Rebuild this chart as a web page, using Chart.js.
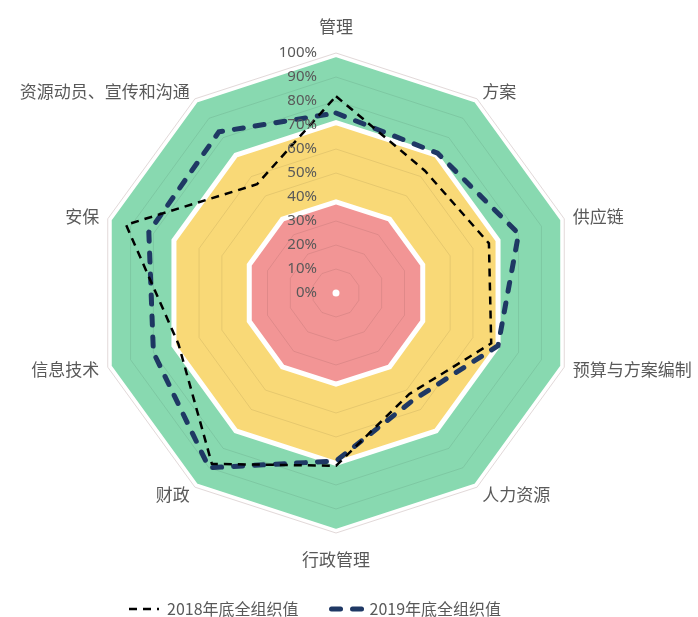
<!DOCTYPE html>
<html lang="zh">
<head>
<meta charset="utf-8">
<title>全组织值雷达图</title>
<script src="https://cdn.jsdelivr.net/npm/chart.js@4.4.1/dist/chart.umd.min.js"></script>
<style>
    html, body { margin: 0; padding: 0; background: #fff; }
</style>
</head>
<body>
<canvas id="graficaRadar" width="698" height="617"></canvas>
<script>
/* 1. DATOS */
const categorias = ['管理', '方案', '供应链', '预算与方案编制', '人力资源', '行政管理', '财政', '信息技术', '安保', '资源动员、宣传和沟通'];
const nombresSeries = ['2018年底全组织值', '2019年底全组织值'];
const valores2018 = [82, 63, 67, 68, 52, 72, 88, 69, 92, 56];
const valores2019 = [75, 72, 80, 71, 55, 70, 90, 80, 82, 83];
// límites de las bandas de fondo: rojo, amarillo, verde
const limitesBandas = [38, 71, 100];
const etiquetasEje = ['0%', '10%', '20%', '30%', '40%', '50%', '60%', '70%', '80%', '90%', '100%'];

/* 2. ESTILOS */
const coloresBandas = ['#f29595', '#f9d977', '#88d9b0'];
const bordesBandas = [5, 5, 8];
const grisTexto = '#595959';
const fuenteCJK = '"Noto Sans CJK SC", "Noto Sans", sans-serif';

/* 3. TEXTOS DEL EJE (porcentajes a la izquierda y categorías) */
const textoEjes = {
    id: 'textoEjes',
    afterDraw(chart) {
        const r = chart.scales.r;
        const ctx = chart.ctx;
        ctx.save();

        // punto blanco en el centro
        ctx.fillStyle = '#ffffff';
        ctx.beginPath();
        ctx.arc(r.xCenter, r.yCenter, 3.5, 0, Math.PI * 2);
        ctx.fill();

        ctx.fillStyle = grisTexto;
        ctx.font = '15px "Noto Sans", sans-serif';
        ctx.textAlign = 'right';
        ctx.textBaseline = 'middle';
        r.ticks.forEach((t, i) => {
            const d = r.getDistanceFromCenterForValue(t.value);
            ctx.fillText(etiquetasEje[i], r.xCenter - 19, r.yCenter - d);
        });

        ctx.font = '17px ' + fuenteCJK;
        categorias.forEach((nombre, i) => {
            const dir = r.getPointPosition(i, 1);
            const dx = dir.x - r.xCenter;
            const dy = dir.y - r.yCenter;
            let p;
            if (Math.abs(dx) < 0.05) {
                p = r.getPointPosition(i, r.drawingArea + 18);
                ctx.textAlign = 'center';
                ctx.textBaseline = dy < 0 ? 'bottom' : 'top';
            } else {
                p = r.getPointPosition(i, r.drawingArea + 9);
                ctx.textAlign = dx > 0 ? 'left' : 'right';
                ctx.textBaseline = 'middle';
            }
            ctx.fillText(nombre, p.x, p.y);
        });
        ctx.restore();
    }
};

/* 4. GRÁFICA */
const datasetsBandas = limitesBandas.map((limite, i) => ({
    label: 'banda' + i,
    data: categorias.map(() => limite),
    fill: true,
    backgroundColor: coloresBandas[i],
    borderColor: '#ffffff',
    borderWidth: bordesBandas[i],
    borderJoinStyle: 'miter',
    pointRadius: 0,
    pointHoverRadius: 0
}));

// leyenda: solo las dos series, con su trazo discontinuo
function etiquetasLeyenda(chart) {
    return chart.data.datasets.slice(0, 2).map((ds, i) => ({
        text: ds.label,
        datasetIndex: i,
        fillStyle: 'rgba(0,0,0,0)',
        strokeStyle: ds.borderColor,
        lineWidth: ds.borderWidth,
        lineDash: ds.borderDash,
        lineCap: ds.borderCapStyle || 'butt',
        pointStyle: 'line',
        fontColor: grisTexto,
        hidden: false
    }));
}

// color de la rejilla: sin línea donde van los bordes blancos de las bandas
function colorRejilla(c) {
    const v = c.tick ? c.tick.value : null;
    if (v === 100) return '#e2d9d9';
    if (v === 40 || v === 70) return 'rgba(0, 0, 0, 0)';
    return 'rgba(0, 0, 0, 0.08)';
}

new Chart(document.getElementById('graficaRadar'), {
    type: 'radar',
    data: {
        labels: categorias,
        datasets: [
            {
                label: nombresSeries[0],
                data: valores2018,
                fill: false,
                borderColor: '#000000',
                backgroundColor: '#000000',
                borderWidth: 2.5,
                borderDash: [8, 6],
                pointRadius: 0,
                tension: 0
            },
            {
                label: nombresSeries[1],
                data: valores2019,
                fill: false,
                borderColor: '#1f3864',
                backgroundColor: '#1f3864',
                borderWidth: 5,
                borderDash: [9, 12],
                borderCapStyle: 'round',
                pointRadius: 0,
                tension: 0
            },
            ...datasetsBandas
        ]
    },
    options: {
        responsive: false,
        animation: false,
        layout: { padding: { left: 96, right: 122, top: 53, bottom: -10 } },
        scales: {
            r: {
                min: 0,
                max: 100,
                ticks: { stepSize: 10, display: false },
                angleLines: { display: false },
                pointLabels: { display: false },
                grid: { z: 1, lineWidth: 1, color: colorRejilla }
            }
        },
        plugins: {
            tooltip: { enabled: false },
            legend: {
                position: 'bottom',
                align: 'start',
                title: { display: true, text: '', padding: { top: 23, bottom: 0 }, font: { size: 10 } },
                labels: {
                    generateLabels: etiquetasLeyenda,
                    usePointStyle: true,
                    pointStyleWidth: 30,
                    padding: 33,
                    color: grisTexto,
                    font: { size: 16, family: fuenteCJK }
                }
            }
        }
    },
    plugins: [textoEjes]
});
</script>
</body>
</html>
